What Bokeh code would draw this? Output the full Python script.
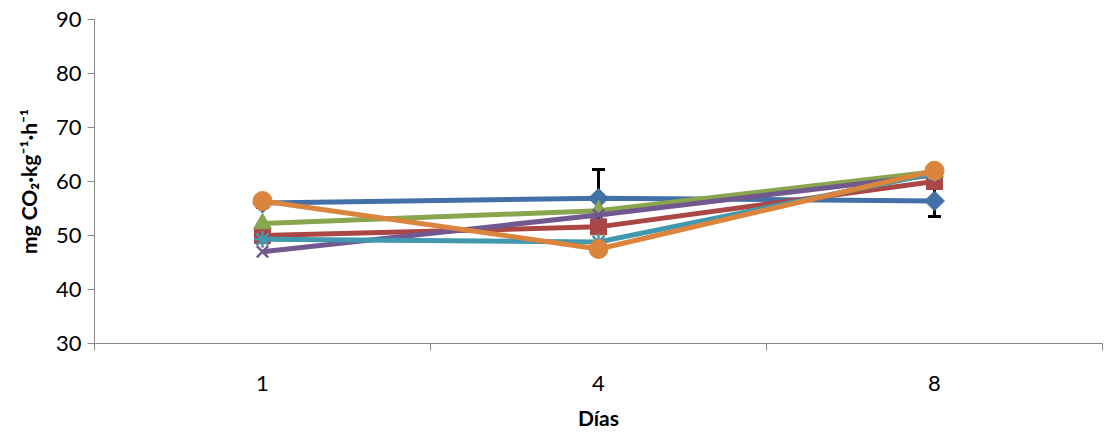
import math
from bokeh.plotting import figure
from bokeh.models import Range1d, FixedTicker, ColumnDataSource, Whisker, TeeHead
from bokeh.embed import file_html
from bokeh.resources import INLINE

days = ["1", "4", "8"]
blue = [56.0, 56.9, 56.4]
blue_err = [0.8, 5.3, 2.9]
red = [50.0, 51.6, 60.0]
green = [52.2, 54.6, 61.8]
purple = [47.0, 53.8, 61.2]
teal = [49.3, 48.8, 61.5]
orange = [56.4, 47.5, 62.0]
y_ticks = [30, 40, 50, 60, 70, 80, 90]

xs = [i + 0.5 for i in range(len(days))]

p = figure(width=1105, height=433, output_backend="svg", toolbar_location=None,
           x_range=Range1d(0, len(days)), y_range=Range1d(30, 90),
           min_border_left=94, min_border_right=3, min_border_top=19, min_border_bottom=90)
p.outline_line_color = None
p.xgrid.visible = False
p.ygrid.visible = False

FONT = "Lato"
axc = "#868686"

p.xaxis.ticker = FixedTicker(ticks=xs, minor_ticks=list(range(len(days) + 1)))
p.xaxis.major_label_overrides = {x: d for x, d in zip(xs, days)}
p.xaxis.major_tick_out = 0
p.xaxis.major_tick_in = 0
p.xaxis.minor_tick_out = 7
p.xaxis.minor_tick_in = 0
p.xaxis.minor_tick_line_color = axc
p.xaxis.axis_line_color = axc
p.xaxis.major_label_standoff = 25
p.xaxis.axis_label = "Días"
p.xaxis.axis_label_standoff = 11

p.yaxis.ticker = FixedTicker(ticks=y_ticks, minor_ticks=[])
p.yaxis.major_tick_out = 7
p.yaxis.major_tick_in = 0
p.yaxis.major_tick_line_color = axc
p.yaxis.axis_line_color = axc
p.yaxis.major_label_standoff = 6
p.yaxis.axis_label = "mg CO₂·kg⁻¹·h⁻¹"
p.yaxis.axis_label_standoff = 12

for ax in (p.xaxis[0], p.yaxis[0]):
    ax.major_label_text_font = FONT
    ax.major_label_text_font_size = "22px"
    ax.major_label_text_color = "#000000"
    ax.axis_label_text_font = FONT
    ax.axis_label_text_font_size = "21px"
    ax.axis_label_text_font_style = "bold"
    ax.axis_label_text_color = "#000000"

# error bars for the first series (drawn underneath)
src_err = ColumnDataSource(dict(x=xs, upper=[v + e for v, e in zip(blue, blue_err)],
                                lower=[v - e for v, e in zip(blue, blue_err)]))
w = Whisker(source=src_err, base="x", upper="upper", lower="lower", level="underlay",
            line_color="black", line_width=3,
            upper_head=TeeHead(size=13, line_width=3, line_color="black"),
            lower_head=TeeHead(size=13, line_width=3, line_color="black"))
p.add_layout(w)

LW = 5
series = [
    (blue, "#4470A8", dict(marker="square", size=14, angle=math.pi / 4)),
    (red, "#AA4643", dict(marker="square", size=16)),
    (green, "#89A54E", dict(marker="triangle", size=18)),
    (purple, "#71588F", dict(marker="x", size=16, line_width=2.5)),
    (teal, "#4198AF", dict(marker="asterisk", size=17, line_width=2.5)),
    (orange, "#DB843D", dict(marker="circle", size=19)),
]
for vals, col, mk in series:
    p.line(xs, vals, line_color=col, line_width=LW)
    kw = dict(mk)
    lw = kw.pop("line_width", 1)
    p.scatter(xs, vals, fill_color=col, line_color=col, line_width=lw, **kw)

open("out.html", "w").write(file_html(p, INLINE))
